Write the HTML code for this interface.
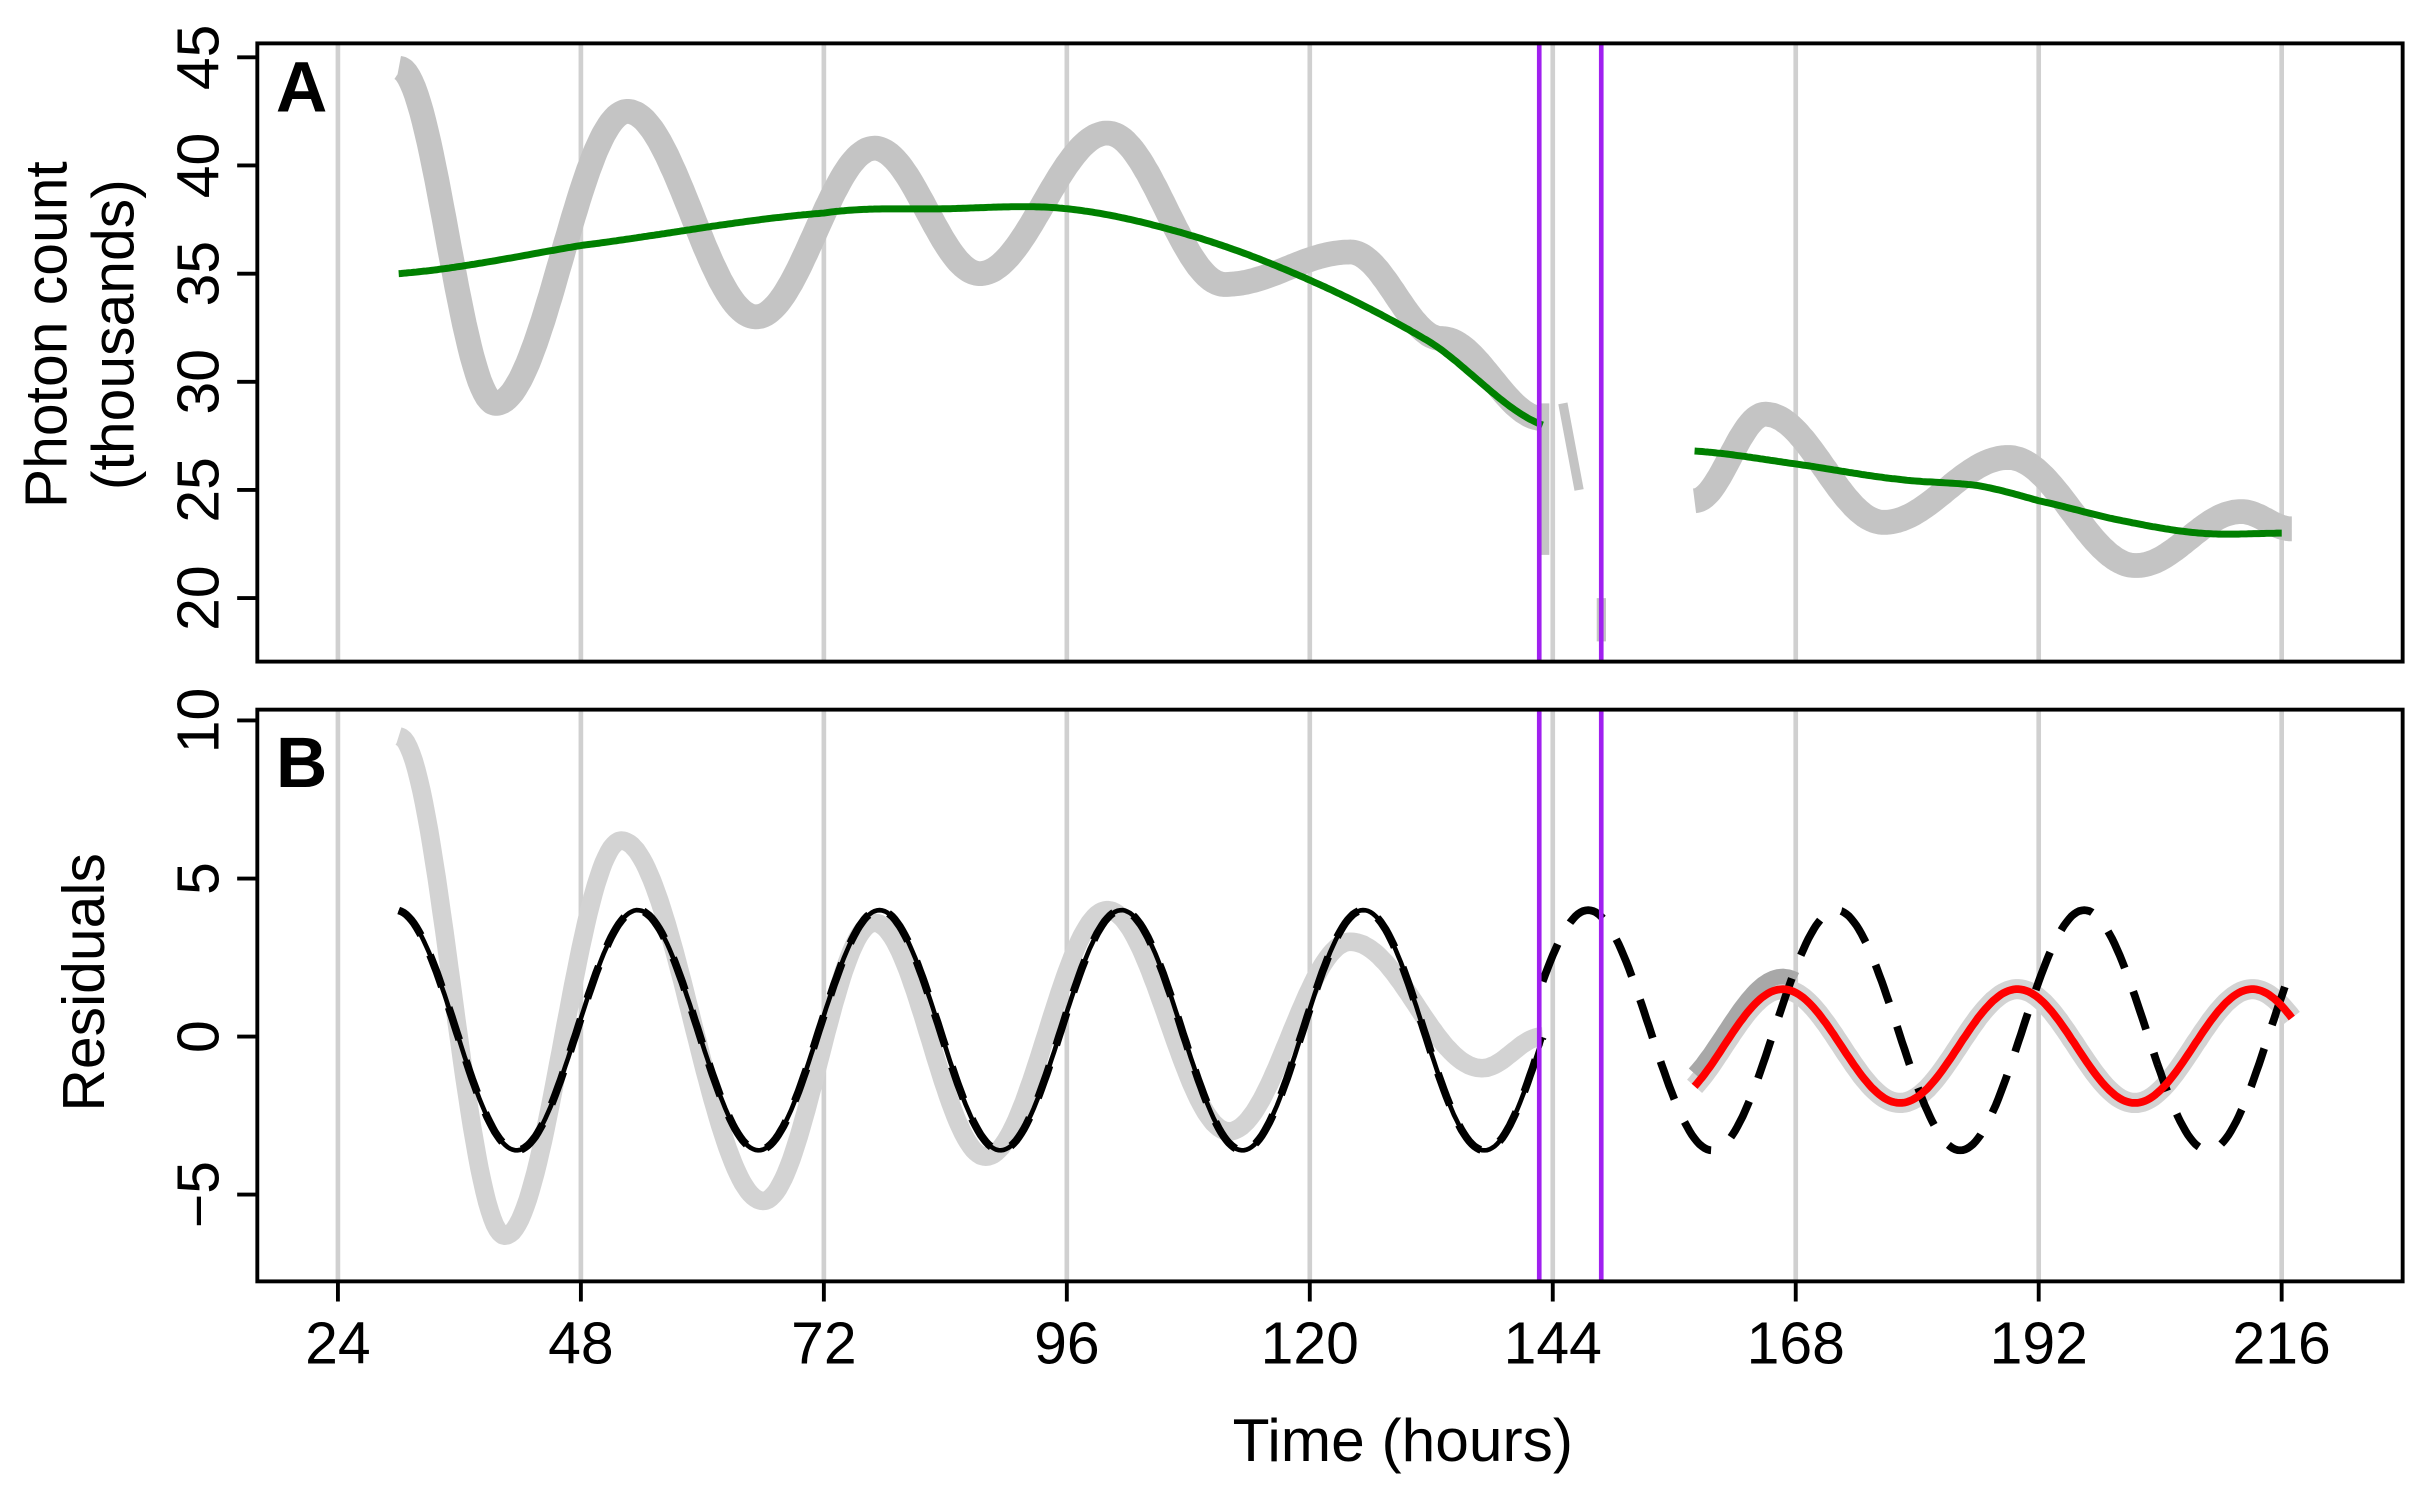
<!DOCTYPE html>
<html><head><meta charset="utf-8"><style>html,body{margin:0;padding:0;background:#fff}svg{display:block}</style></head>
<body>
<svg id="s" width="2429" height="1489" viewBox="0 0 1567 961" preserveAspectRatio="none" xmlns="http://www.w3.org/2000/svg" font-family="Liberation Sans, sans-serif">
<rect width="1567" height="961" fill="#fff"/>
<g id="grid"></g>
<g id="data"></g>
<g id="ax" fill="#000"></g>
<rect x="166" y="28" width="1384" height="399" fill="none" stroke="#000" stroke-width="2.5"/>
<rect x="166" y="458" width="1384" height="369" fill="none" stroke="#000" stroke-width="2.5"/>
<text x="178" y="72" font-size="46" font-weight="bold">A</text>
<text x="178" y="508" font-size="46" font-weight="bold">B</text>
<text transform="translate(43,216) rotate(-90)" font-size="38" text-anchor="middle">Photon count</text>
<text transform="translate(86,216) rotate(-90)" font-size="38" text-anchor="middle">(thousands)</text>
<text transform="translate(67,634) rotate(-90)" font-size="38" text-anchor="middle">Residuals</text>
<text x="905" y="943" font-size="39" text-anchor="middle">Time (hours)</text>
</svg>
<script>
const NS="http://www.w3.org/2000/svg";
const X=t=>218+(t-24)*6.531, YA=v=>37+(45-v)*13.96, YB=v=>669-v*20.4;
function el(p,tag,a,txt){const e=document.createElementNS(NS,tag);for(const k in a)e.setAttribute(k,a[k]);if(txt!=null)e.textContent=txt;document.getElementById(p).appendChild(e);return e;}
function cosInterp(pts,t){for(let i=0;i<pts.length-1;i++){const[a,va]=pts[i],[b,vb]=pts[i+1];if(t>=a&&t<=b){const u=(t-a)/(b-a);const w=(1-Math.cos(Math.PI*u))/2;return va+(vb-va)*w;}}return null;}
function pathFrom(f,t0,t1,Y,step=0.25){let d="";for(let t=t0;t<=t1+1e-9;t+=step){const v=f(t);d+=(d?"L":"M")+X(t).toFixed(1)+","+Y(v).toFixed(1);}return d;}
function spline(p,t){for(let i=0;i<p.length-1;i++){const[a,va]=p[i],[b,vb]=p[i+1];if(t>=a&&t<=b){const p0=i>0?p[i-1][1]:va,p3=i<p.length-2?p[i+2][1]:vb;const u=(t-a)/(b-a);const m1=(vb-p0)/2,m2=(p3-va)/2;const h00=2*u*u*u-3*u*u+1,h10=u*u*u-2*u*u+u,h01=-2*u*u*u+3*u*u,h11=u*u*u-u*u;return h00*va+h10*m1+h01*vb+h11*m2;}}return p[p.length-1][1];}
for(let t=24;t<=216;t+=24){el("grid","line",{x1:X(t),x2:X(t),y1:28,y2:427,stroke:"#d0d0d0","stroke-width":3});el("grid","line",{x1:X(t),x2:X(t),y1:458,y2:827,stroke:"#d0d0d0","stroke-width":3});}
const A1=[[30,44.5],[39.6,29],[52.6,42.5],[65.3,33],[77,40.8],[87.4,35],[100,41.5],[111.6,34.5],[124,36],[133,32],[143,28.3]];
const A2=[[158,24.5],[165,28.5],[176.7,23.5],[189,26.5],[201.6,21.5],[212,24],[217,23.2]];
el("data","path",{d:pathFrom(t=>cosInterp(A1,t),30,143,YA),fill:"none",stroke:"#c4c4c4","stroke-width":16,"stroke-linejoin":"round"});
el("data","path",{d:pathFrom(t=>cosInterp(A2,t),158,217,YA),fill:"none",stroke:"#c4c4c4","stroke-width":16,"stroke-linejoin":"round"});
el("data","path",{d:`M${X(143.2)},${YA(29)}L${X(143.2)},${YA(22)}M${X(145)},${YA(29)}L${X(146.6)},${YA(25)}M${X(148.8)},${YA(20)}L${X(148.8)},${YA(18)}`,fill:"none",stroke:"#c4c4c4","stroke-width":6});
const G1=[[30,35],[48,36.3],[72,37.8],[84,38],[96,38],[108,36.8],[120,34.7],[132,31.8],[143,28]];
const G2=[[158,26.8],[168,26.2],[178,25.5],[186,25.2],[192,24.5],[200,23.6],[208,23],[216,23]];
el("data","path",{d:pathFrom(t=>spline(G1,t),30,143,YA),fill:"none",stroke:"#008000","stroke-width":4.5});
el("data","path",{d:pathFrom(t=>spline(G2,t),158,216,YA),fill:"none",stroke:"#008000","stroke-width":4.5});
const B1=[[30,9.5],[40.5,-6.3],[52,6.2],[66,-5.2],[77,3.6],[88,-3.8],[100,4],[112,-3],[124,3],[137,-1],[143,0]];
el("data","path",{d:pathFrom(t=>cosInterp(B1,t),30,143,YB),fill:"none",stroke:"#d3d3d3","stroke-width":12,"stroke-linejoin":"round"});
const red=t=>-0.3+1.8*Math.cos(2*Math.PI*(t-166.7)/23.2);
el("data","path",{d:pathFrom(t=>red(t),158,217,YB),fill:"none",stroke:"#d3d3d3","stroke-width":13});
el("data","path",{d:pathFrom(t=>red(t)+0.4,158,168,YB),fill:"none",stroke:"#a8a8a8","stroke-width":10});
const blk=t=>0.2+3.8*Math.cos(2*Math.PI*(t-29.7)/23.9);
el("data","path",{d:pathFrom(blk,30,143,YB),fill:"none",stroke:"#000","stroke-width":3});
el("data","path",{d:pathFrom(blk,30,143,YB),fill:"none",stroke:"#000","stroke-width":5,"stroke-dasharray":"22 14"});
el("data","path",{d:pathFrom(t=>0.2+3.8*Math.cos(2*Math.PI*(t-147.5)/24.5),143,217,YB),fill:"none",stroke:"#000","stroke-width":5,"stroke-dasharray":"26 16"});
el("data","path",{d:pathFrom(red,158,217,YB),fill:"none",stroke:"#ff0000","stroke-width":5});
for(const x of [993,1033]){el("data","line",{x1:x,x2:x,y1:28,y2:427,stroke:"#a020f0","stroke-width":3});el("data","line",{x1:x,x2:x,y1:458,y2:827,stroke:"#a020f0","stroke-width":3});}
for(let t=24;t<=216;t+=24){el("ax","line",{x1:X(t),x2:X(t),y1:827,y2:840,stroke:"#000","stroke-width":2.5});el("ax","text",{x:X(t),y:880,"font-size":38,"text-anchor":"middle"},String(t));}
for(let v=20;v<=45;v+=5){const y=YA(v);el("ax","line",{x1:153,x2:166,y1:y,y2:y,stroke:"#000","stroke-width":2.5});el("ax","text",{transform:`translate(141,${y}) rotate(-90)`,"font-size":38,"text-anchor":"middle"},String(v));}
for(const v of [-5,0,5,10]){const y=YB(v);el("ax","line",{x1:153,x2:166,y1:y,y2:y,stroke:"#000","stroke-width":2.5});el("ax","text",{transform:`translate(141,${y}) rotate(-90)`,"font-size":38,"text-anchor":"middle"},v<0?"\u2212"+(-v):String(v));}
</script>
</body></html>
